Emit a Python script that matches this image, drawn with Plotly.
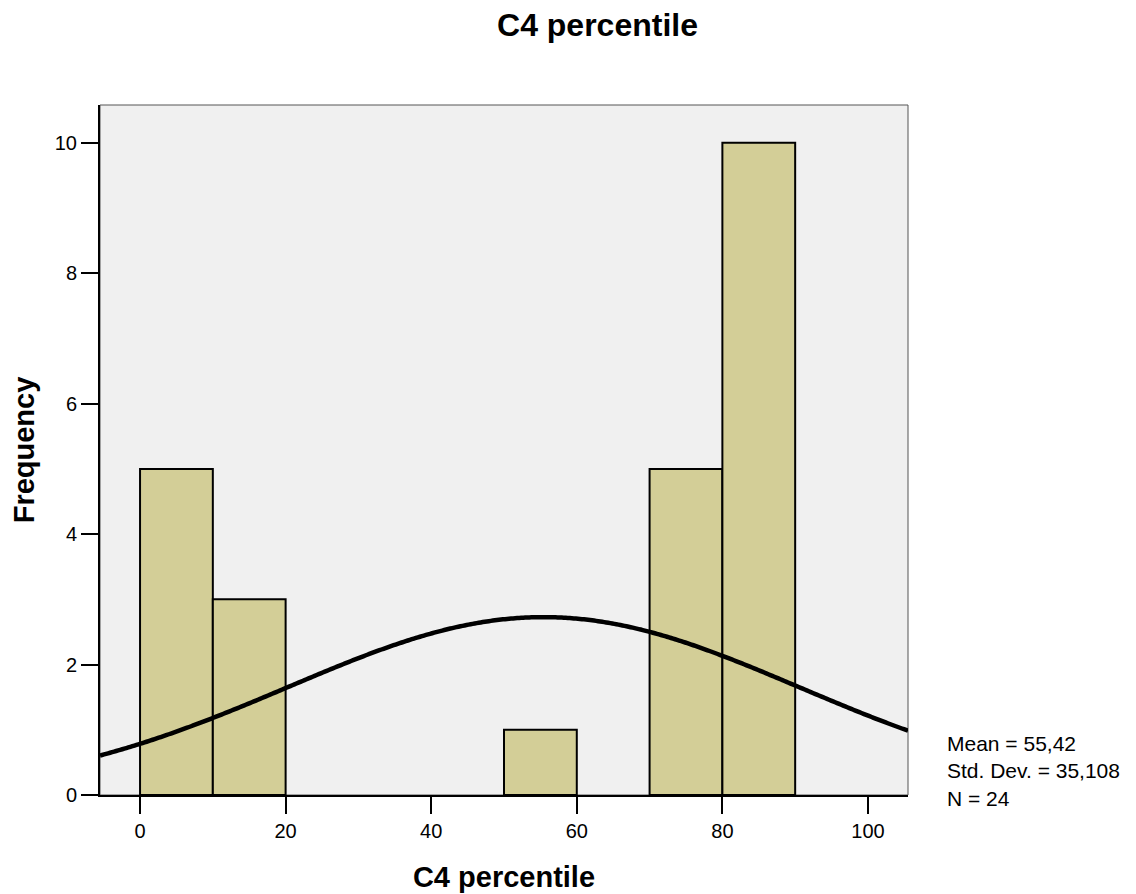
import numpy as np
import plotly.graph_objects as go

# Data
bin_starts = [0, 10, 50, 70, 80]
frequencies = [5, 3, 1, 5, 10]
bin_width = 10
mean_val = 55.42
std_val = 35.108
n_val = 24
x_ticks = [0, 20, 40, 60, 80, 100]
y_ticks = [0, 2, 4, 6, 8, 10]

bar_centers = [b + bin_width / 2 for b in bin_starts]

xc = np.linspace(-5.5, 105.5, 400)
yc = n_val * bin_width / (std_val * np.sqrt(2 * np.pi)) * np.exp(-0.5 * ((xc - mean_val) / std_val) ** 2)

W, H = 1136, 894
PW, PH = 808, 690
fig = go.Figure()
fig.add_trace(go.Bar(
    x=bar_centers, y=frequencies, width=bin_width,
    marker=dict(color="#D3CE97", line=dict(color="black", width=2)),
    hoverinfo="x+y",
))
fig.add_trace(go.Scatter(
    x=xc, y=yc, mode="lines", line=dict(color="black", width=4.5, simplify=False),
    hoverinfo="skip",
))

fig.update_layout(
    width=W, height=H,
    margin=dict(l=92, r=236, t=97, b=107, autoexpand=False),
    paper_bgcolor="white", plot_bgcolor="#F0F0F0",
    showlegend=False,
    font=dict(family="Liberation Sans, Arial, sans-serif", color="black", size=20),
    title=dict(text="<b>C4 percentile</b>", x=(597.5 - 100) / PW, xanchor="center", xref="paper",
               y=1 - 17 / H, yanchor="middle", font=dict(size=32)),
    shapes=[dict(type="rect", xref="paper", yref="paper", x0=0, x1=1, y0=0, y1=1,
                 line=dict(color="#555555", width=1), layer="below")],
    annotations=[dict(
        text="Mean = 55,42<br>Std. Dev. = 35,108<br>N = 24",
        xref="paper", yref="paper", x=1 + 37 / PW, y=-17 / PH,
        xanchor="left", yanchor="bottom", align="left", showarrow=False,
        font=dict(size=21),
    )],
)
fig.update_xaxes(
    range=[-5.5, 105.5], tickvals=x_ticks, ticks="outside", ticklen=17, tickwidth=2,
    tickcolor="black", showline=True, linecolor="black", linewidth=2,
    showgrid=False, zeroline=False, tickfont=dict(size=20),
    title=dict(text="<b>C4 percentile</b>", font=dict(size=29), standoff=26),
)
fig.update_yaxes(
    range=[0, 10.58], tickvals=y_ticks, ticks="outside", ticklen=17, tickwidth=2,
    tickcolor="black", showline=True, linecolor="black", linewidth=2,
    showgrid=False, zeroline=False, tickfont=dict(size=20),
    title=dict(text="<b>Frequency</b>", font=dict(size=29), standoff=12),
)

fig.write_html("out.html")
